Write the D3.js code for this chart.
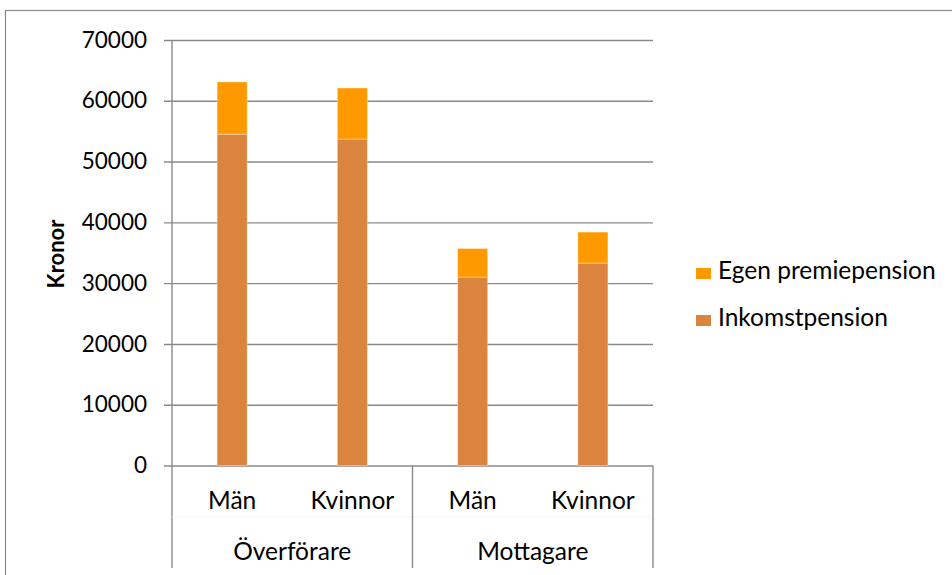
<!DOCTYPE html>
<html>
<head>
<meta charset="utf-8">
<script src="https://cdn.jsdelivr.net/npm/d3@7"></script>
<style>
  html, body { margin: 0; padding: 0; background: #fff; }
  svg { display: block; }
  text { font-family: Lato, "Open Sans", sans-serif; fill: #000; }
</style>
</head>
<body>
<svg id="chart" width="952" height="575"></svg>
<script>
// Pension per person, kronor
const groups = ["Överförare", "Mottagare"];
const genders = ["Män", "Kvinnor"];
const inkomstpension = [54500, 53700, 31000, 33300];
const egenPremiepension = [8600, 8400, 4700, 5100];
const seriesNames = ["Inkomstpension", "Egen premiepension"];
const seriesColors = ["#DB843D", "#FF9900"];
const yTicks = [0, 10000, 20000, 30000, 40000, 50000, 60000, 70000];
const yTitle = "Kronor";

const svg = d3.select("#chart");

// chart frame
svg.append("rect")
  .attr("x", 5.5).attr("y", 10.5)
  .attr("width", 1000).attr("height", 700)
  .attr("fill", "#fff").attr("stroke", "#8a8a8a").attr("stroke-width", 1.2);

const plot = { left: 172, right: 653, top: 40, bottom: 465.5 };
const axisBottom = 568;
const labelSize = 24.5;

const rows = [];
groups.forEach((g, gi) => genders.forEach((s, si) => {
  const i = gi * genders.length + si;
  rows.push({ key: g + "|" + s, group: g, gender: s,
              inkomst: inkomstpension[i], egen: egenPremiepension[i] });
}));

const x = d3.scaleBand()
  .domain(rows.map(d => d.key))
  .range([plot.left, plot.right])
  .paddingInner(0.75).paddingOuter(0.375);

const xGroup = d3.scaleBand()
  .domain(groups)
  .range([plot.left, plot.right])
  .padding(0);

const y = d3.scaleLinear().domain([0, 70000]).range([plot.bottom, plot.top]);

// horizontal gridlines with outward tick marks
const grid = svg.append("g")
  .attr("transform", `translate(${plot.left - 8},0)`)
  .call(d3.axisRight(y).tickValues(yTicks).tickSize(plot.right - plot.left + 8).tickFormat(""));
grid.select(".domain").remove();
grid.selectAll(".tick line").attr("stroke", "#8a8a8a").attr("stroke-width", 1.4);

// tick labels
const yLab = svg.append("g")
  .attr("transform", `translate(${plot.left},0)`)
  .call(d3.axisLeft(y).tickValues(yTicks).tickSize(0).tickPadding(25).tickFormat(d3.format("d")));
yLab.select(".domain").remove();
yLab.selectAll(".tick text")
  .style("font-family", "Lato, sans-serif")
  .attr("font-size", 22.5).attr("fill", "#000");

// stacked bars
const stack = d3.stack().keys(["inkomst", "egen"]);
const layers = stack(rows);
svg.append("g").selectAll("g")
  .data(layers)
  .join("g")
  .attr("fill", (d, i) => seriesColors[i])
  .selectAll("rect")
  .data(d => d)
  .join("rect")
  .attr("x", d => x(d.data.key))
  .attr("width", x.bandwidth())
  .attr("y", d => y(d[1]))
  .attr("height", d => y(d[0]) - y(d[1]))
  .attr("stroke", "rgba(255,255,255,0.35)")
  .attr("stroke-width", 1);

// category axis lines
const axisColor = "#8a8a8a";
svg.append("line")
  .attr("x1", plot.left).attr("x2", plot.left)
  .attr("y1", plot.top).attr("y2", axisBottom)
  .attr("stroke", axisColor).attr("stroke-width", 1.4);
svg.append("line")
  .attr("x1", plot.left).attr("x2", plot.right)
  .attr("y1", 517).attr("y2", 517)
  .attr("stroke", "#f4f4f4").attr("stroke-width", 1);
svg.append("g").selectAll("line")
  .data(groups)
  .join("line")
  .attr("x1", d => xGroup(d) + xGroup.bandwidth())
  .attr("x2", d => xGroup(d) + xGroup.bandwidth())
  .attr("y1", plot.bottom).attr("y2", axisBottom)
  .attr("stroke", axisColor).attr("stroke-width", 1.4);

// category labels
svg.append("g").selectAll("text")
  .data(rows)
  .join("text")
  .attr("x", d => x(d.key) + x.bandwidth() / 2)
  .attr("y", 509)
  .attr("text-anchor", "middle")
  .attr("font-size", labelSize)
  .text(d => d.gender);

svg.append("g").selectAll("text")
  .data(groups)
  .join("text")
  .attr("x", d => xGroup(d) + xGroup.bandwidth() / 2)
  .attr("y", 560)
  .attr("text-anchor", "middle")
  .attr("font-size", labelSize)
  .text(d => d);

// y axis title
svg.append("text")
  .attr("transform", `translate(64,254) rotate(-90)`)
  .attr("text-anchor", "middle")
  .attr("font-size", 22)
  .attr("font-weight", "bold")
  .text(yTitle);

// legend (top entry is the top stack segment)
const legendItems = [
  { name: seriesNames[1], color: seriesColors[1], y: 279 },
  { name: seriesNames[0], color: seriesColors[0], y: 326 }
];
const legend = svg.append("g").selectAll("g")
  .data(legendItems)
  .join("g");
legend.append("rect")
  .attr("x", 696).attr("y", d => d.y - 11)
  .attr("width", 15).attr("height", 11)
  .attr("fill", d => d.color);
legend.append("text")
  .attr("x", 718).attr("y", d => d.y)
  .attr("font-size", labelSize)
  .text(d => d.name);
</script>
</body>
</html>
